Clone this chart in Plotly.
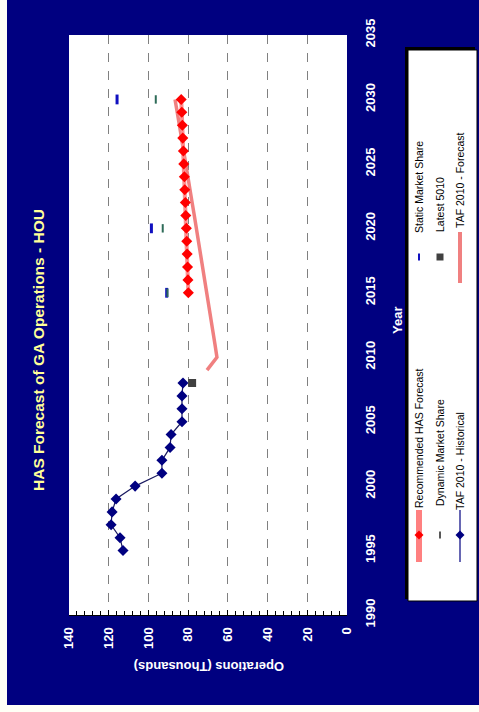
import plotly.graph_objects as go

# data (values in thousands of operations)
hist_years = [1995, 1996, 1997, 1998, 1999, 2000, 2001, 2002, 2003, 2004, 2005, 2006, 2007, 2008]
hist_ops = [112.8, 114.3, 118.8, 118.3, 116.3, 106.7, 93.2, 93.2, 89.1, 88.6, 83.1, 83.1, 83.1, 82.6]

has_years = list(range(2015, 2031))
has_ops = [79.9, 80.1, 80.3, 80.5, 80.7, 80.9, 81.2, 81.4, 81.7, 81.9, 82.2, 82.4, 82.7, 82.9, 83.2, 83.5]

taf_years = list(range(2009, 2031))
taf_ops = [70.5, 65.5, 66.5, 67.5, 68.6, 69.6, 70.6, 71.7, 72.7, 73.8, 74.8, 75.9,
           76.9, 78.0, 79.0, 80.1, 81.2, 82.2, 83.3, 84.4, 85.5, 86.6]

latest_years = [2008]
latest_ops = [78.0]

static_years = [2015, 2020, 2030]
static_ops = [90.8, 98.5, 115.8]

dynamic_years = [2015, 2020, 2030]
dynamic_ops = [90.4, 92.8, 96.3]

# plot area in pixels (chart is drawn turned on its side)
W, H = 479, 712
PL, PR, PT, PB = 69, 347, 35, 615
FONT = "Arial, Liberation Sans, sans-serif"
NAVY = "#000080"
PINK = "#F08080"


def px(x):
    return (x - PL) / (PR - PL)


def py(y):
    return (PB - y) / (PB - PT)


fig = go.Figure()

fig.add_trace(go.Scatter(x=taf_ops, y=taf_years, mode="lines",
                         line=dict(color=PINK, width=3.5)))
fig.add_trace(go.Scatter(x=has_ops, y=has_years, mode="lines+markers",
                         line=dict(color="#FF9090", width=4),
                         marker=dict(symbol="diamond", size=8.5, color="#FF0000")))
fig.add_trace(go.Scatter(x=hist_ops, y=hist_years, mode="lines+markers",
                         line=dict(color="#1A1A60", width=1.2),
                         marker=dict(symbol="diamond", size=8.5, color=NAVY)))
fig.add_trace(go.Scatter(x=latest_ops, y=latest_years, mode="markers",
                         marker=dict(symbol="square", size=8, color="#404040")))
fig.add_trace(go.Scatter(x=static_ops, y=static_years, mode="markers",
                         marker=dict(symbol="line-ns", size=7,
                                     line=dict(color="#1010C0", width=3))))
fig.add_trace(go.Scatter(x=dynamic_ops, y=dynamic_years, mode="markers",
                         marker=dict(symbol="line-ns", size=6,
                                     line=dict(color="#2E6B58", width=2))))

leg_x = [419, 440, 460]
yA, yB = 535, 257
DIAMOND = "M0,4.5 L4.5,0 L0,-4.5 L-4.5,0 Z"


def marker_shape(x, y, **kw):
    d = dict(xsizemode="pixel", ysizemode="pixel", xanchor=px(x), yanchor=py(y))
    d.update(kw)
    return d


shapes = [
    dict(type="rect", x0=px(7), x1=px(479), y0=py(705), y1=py(0),
         fillcolor=NAVY, line=dict(width=0)),
    dict(type="rect", x0=0, x1=1, y0=0, y1=1,
         fillcolor="white", line=dict(width=0)),
    # legend box with shadow
    dict(type="rect", x0=px(405), x1=px(475), y0=py(599), y1=py(47),
         fillcolor="black", line=dict(width=0)),
    dict(type="rect", x0=px(408), x1=px(477), y0=py(601), y1=py(50),
         fillcolor="white", line=dict(color="black", width=1)),
    # legend lines
    dict(type="line", x0=px(leg_x[0]), x1=px(leg_x[0]),
         y0=py(510), y1=py(562), line=dict(color="#FF8080", width=6)),
    dict(type="line", x0=px(leg_x[2]), x1=px(leg_x[2]),
         y0=py(510), y1=py(562), line=dict(color=NAVY, width=1.2)),
    dict(type="line", x0=px(leg_x[2]), x1=px(leg_x[2]),
         y0=py(232), y1=py(283), line=dict(color=PINK, width=4)),
    # legend symbols
    marker_shape(leg_x[0], yA, type="path", path=DIAMOND,
                 fillcolor="#FF0000", line=dict(width=0)),
    marker_shape(leg_x[2], yA, type="path", path=DIAMOND,
                 fillcolor=NAVY, line=dict(width=0)),
    marker_shape(leg_x[1], yA, type="line", x0=0, x1=0, y0=-3.5, y1=3.5,
                 line=dict(color="#202020", width=1.5)),
    marker_shape(leg_x[0], yB, type="line", x0=0, x1=0, y0=-3.5, y1=3.5,
                 line=dict(color="#1010C0", width=2)),
    marker_shape(leg_x[1], yB, type="rect", x0=-3.5, x1=3.5, y0=-3.5, y1=3.5,
                 fillcolor="#404040", line=dict(width=0)),
]
for s in shapes:
    s.update(xref="paper", yref="paper", layer="below")

annotations = [
    dict(text="<b>HAS Forecast of GA Operations - HOU</b>", x=px(38), y=py(350),
         textangle=-90, font=dict(size=15.5, color="#FFFF99", family=FONT)),
    dict(text="<b>Operations (Thousands)</b>", x=px(209), y=py(667),
         textangle=180, font=dict(size=13, color="white", family=FONT)),
    dict(text="<b>Year</b>", x=px(397), y=py(321),
         textangle=-90, font=dict(size=13, color="white", family=FONT)),
]
# legend labels: (column x, centre y, text)
leg_text = [
    (leg_x[0], 438, "Recommended HAS Forecast"),
    (leg_x[1], 453, "Dynamic Market Share"),
    (leg_x[2], 461, "TAF 2010 - Historical"),
    (leg_x[0], 187, "Static Market Share"),
    (leg_x[1], 205, "Latest 5010"),
    (leg_x[2], 180, "TAF 2010 - Forecast"),
]
for lx, ly, t in leg_text:
    annotations.append(dict(text=t, x=px(lx), y=py(ly), textangle=-90,
                            font=dict(size=10.5, color="black", family=FONT)))
for a in annotations:
    a.update(xref="paper", yref="paper", showarrow=False,
             xanchor="center", yanchor="middle")

fig.update_layout(
    width=W, height=H, autosize=False,
    margin=dict(l=PL, r=W - PR, t=PT, b=H - PB, pad=0),
    paper_bgcolor="#FFFFF6", plot_bgcolor="white",
    showlegend=False,
    shapes=shapes, annotations=annotations,
    xaxis=dict(range=[140, 0], dtick=20, tickangle=-90,
               tickprefix="<b>", ticksuffix="</b>",
               tickfont=dict(size=13, color="white", family=FONT), ticklabelstandoff=6,
               showgrid=True, gridcolor="#808080", griddash="dash", gridwidth=1,
               zeroline=False, showline=True, linecolor="black", linewidth=1,
               ticks="inside", ticklen=5, tickcolor="black",
               minor=dict(dtick=4, ticks="inside", ticklen=4, tickcolor="black")),
    yaxis=dict(range=[1990, 2035], dtick=5, side="right", tickangle=-90,
               tickprefix="<b>", ticksuffix="</b>",
               tickfont=dict(size=13, color="white", family=FONT), ticklabelstandoff=14,
               showgrid=False, zeroline=False, showline=False, ticks=""),
)

fig.write_html("out.html", config={"displayModeBar": False},
               post_script="document.body.style.margin='0';")
